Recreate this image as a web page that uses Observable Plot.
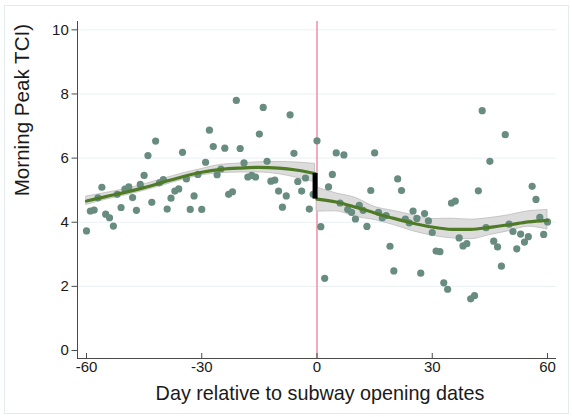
<!DOCTYPE html>
<html>
<head>
<meta charset="utf-8">
<script src="https://cdn.jsdelivr.net/npm/d3@7"></script>
<script src="https://cdn.jsdelivr.net/npm/@observablehq/plot@0.6"></script>
<style>
  body { margin: 0; background: #fff; }
  #chart { position: relative; width: 572px; height: 417px; }
  #chart .outline { position: absolute; left: 4px; top: 5px; width: 563px; height: 407px;
    border: 1px solid #e3ebef; pointer-events: none; }
  #chart svg { position: absolute; left: 0; top: 0; }
</style>
</head>
<body>
<div id="chart"><div class="outline"></div></div>
<script>
// Daily morning-peak congestion index around subway opening (day 0)
const days = [
  -60, -59, -58, -57, -56, -55, -54, -53, -52, -51, -50, -49, -48, -47, -46, -45, -44, -43, -42, -41,
  -40, -39, -38, -37, -36, -35, -34, -33, -32, -31, -30, -29, -28, -27, -26, -25, -24, -23, -22, -21,
  -20, -19, -18, -17, -16, -15, -14, -13, -12, -11, -10, -9, -8, -7, -6, -5, -4, -3, -2, -1,
  0,
  1, 2, 3, 4, 5, 6, 7, 8, 9, 10, 11, 12, 13, 14, 15, 16, 17, 18, 19, 20,
  21, 22, 23, 24, 25, 26, 27, 28, 29, 30, 31, 32, 33, 34, 35, 36, 37, 38, 39, 40,
  41, 42, 43, 44, 45, 46, 47, 48, 49, 50, 51, 52, 53, 54, 55, 56, 57, 58, 59, 60
];
const tci = [
  3.73, 4.35, 4.38, 4.76, 5.09, 4.25, 4.14, 3.88, 4.87, 4.46, 5.03, 5.10, 4.77, 4.37, 5.18, 5.46, 6.08, 4.62, 6.53, 5.23,
  5.33, 4.41, 4.75, 4.97, 5.04, 6.18, 5.35, 4.40, 4.82, 5.49, 4.40, 5.87, 6.87, 6.36, 5.48, 5.66, 6.31, 4.87, 4.95, 7.80,
  6.30, 5.85, 5.41, 5.46, 5.41, 6.75, 7.58, 5.90, 5.28, 5.31, 4.97, 4.47, 4.82, 7.35, 6.15, 5.27, 4.97, 5.38, 4.41, 4.87,
  6.54,
  3.86, 2.25, 5.10, 5.49, 6.16, 4.60, 6.10, 4.40, 4.31, 4.10, 4.53, 4.37, 3.87, 4.99, 6.16, 4.31, 4.14, 4.21, 3.25, 2.48,
  5.35, 4.99, 4.10, 3.98, 4.35, 4.12, 2.41, 4.27, 4.04, 3.68, 3.10, 3.08, 2.11, 1.91, 4.60, 4.66, 3.51, 3.26, 3.33, 1.61,
  1.71, 4.98, 7.48, 3.83, 5.90, 3.41, 3.23, 2.63, 6.73, 3.94, 3.71, 3.17, 3.63, 3.38, 3.55, 5.12, 4.71, 4.15, 3.62, 4.01
];

// Local polynomial fit with 95% band, before the opening
const preDays = [-60, -55, -50, -45, -40, -35, -30, -25, -20, -15, -10, -5, -0.5];
const preFit  = [4.66, 4.80, 4.93, 5.08, 5.25, 5.42, 5.56, 5.65, 5.69, 5.71, 5.69, 5.62, 5.52];
const preLo   = [4.54, 4.70, 4.83, 4.98, 5.15, 5.32, 5.46, 5.53, 5.55, 5.55, 5.50, 5.38, 5.25];
const preHi   = [4.80, 4.91, 5.03, 5.18, 5.35, 5.52, 5.66, 5.79, 5.83, 5.87, 5.88, 5.86, 5.82];

// ... and after the opening
const postDays = [0, 5, 10, 15, 20, 25, 30, 35, 40, 45, 50, 55, 60];
const postFit  = [4.72, 4.63, 4.47, 4.29, 4.12, 3.97, 3.85, 3.78, 3.78, 3.84, 3.92, 4.01, 4.06];
const postLo   = [4.33, 4.34, 4.17, 4.07, 3.91, 3.72, 3.58, 3.50, 3.47, 3.60, 3.72, 3.86, 3.77];
const postHi   = [5.08, 4.90, 4.76, 4.48, 4.35, 4.22, 4.10, 4.11, 4.08, 4.13, 4.22, 4.34, 4.38];

const xTicks = [-60, -30, 0, 30, 60];
const yTicks = [0, 2, 4, 6, 8, 10];
const yGrid = [2, 4, 6, 8, 10];
const xTitle = "Day relative to subway opening dates";
const yTitle = "Morning Peak TCI)";

const xDomain = [-62.34, 62.34];
const yDomain = [-0.25, 10.26];

const points = days.map((d, i) => ({day: d, value: tci[i]}));
const pre = preDays.map((d, i) => ({day: d, fit: preFit[i], lo: preLo[i], hi: preHi[i]}));
const post = postDays.map((d, i) => ({day: d, fit: postFit[i], lo: postLo[i], hi: postHi[i]}));
// discontinuity at the opening: from the post-opening fit start to the pre-opening fit end
const jump = [{day: preDays[preDays.length - 1], from: postFit[0], to: preFit[preFit.length - 1]}];

const font = "'Liberation Sans', Arial, Helvetica, sans-serif";
const axisColor = "#4a4a4a";
const curve = "monotone-x";

const chart = Plot.plot({
  width: 572,
  height: 417,
  marginLeft: 77,
  marginRight: 16,
  marginTop: 21,
  marginBottom: 59,
  style: {fontFamily: font, fontSize: "15px", color: "#1a1a1a", background: "transparent"},
  x: {domain: xDomain, axis: null},
  y: {domain: yDomain, axis: null},
  marks: [
    Plot.ruleY(yGrid, {y: d => d, stroke: "#e9f0f3", strokeWidth: 1}),
    Plot.ruleX([0], {x: d => d, stroke: "#ee8fa6", strokeWidth: 1.5}),
    Plot.areaY(pre, {x: "day", y1: "lo", y2: "hi", fill: "#dcdcdc", stroke: "#bdbdbd", strokeWidth: 0.8, curve}),
    Plot.areaY(post, {x: "day", y1: "lo", y2: "hi", fill: "#dcdcdc", stroke: "#bdbdbd", strokeWidth: 0.8, curve}),
    Plot.dot(points, {x: "day", y: "value", r: 3.6, fill: "#688c80", stroke: "none"}),
    Plot.line(pre, {x: "day", y: "fit", stroke: "#4f7b27", strokeWidth: 3.2, curve}),
    Plot.line(post, {x: "day", y: "fit", stroke: "#4f7b27", strokeWidth: 3.2, curve}),
    Plot.ruleX(jump, {x: "day", y1: "from", y2: "to", stroke: "#000", strokeWidth: 5}),
    // axis lines
    Plot.ruleX([xDomain[0]], {x: d => d, stroke: axisColor, strokeWidth: 1}),
    Plot.ruleY([yDomain[0]], {y: d => d, stroke: axisColor, strokeWidth: 1}),
    // y ticks (outward) and x ticks (inward)
    Plot.ruleY(yTicks, {y: d => d, x1: xDomain[0], x2: xDomain[0], insetLeft: -5.5, stroke: axisColor}),
    Plot.ruleX(xTicks, {x: d => d, y1: yDomain[0], y2: yDomain[0], insetTop: -5, stroke: axisColor}),
    // tick labels
    Plot.text(yTicks, {y: d => d, text: d => String(d), frameAnchor: "left", textAnchor: "end", dx: -8.7, fontSize: 15}),
    Plot.text(xTicks, {x: d => d, text: d => String(d), frameAnchor: "bottom", dy: 13.5, fontSize: 15}),
    // axis titles
    Plot.text([xTitle], {text: d => d, frameAnchor: "bottom", dx: 3, dy: 41.5, fontSize: 19.8}),
    Plot.text([yTitle], {text: d => d, frameAnchor: "left", rotate: -90, dx: -55, dy: 6.3, fontSize: 20.6})
  ]
});

document.getElementById("chart").appendChild(chart);
</script>
</body>
</html>
